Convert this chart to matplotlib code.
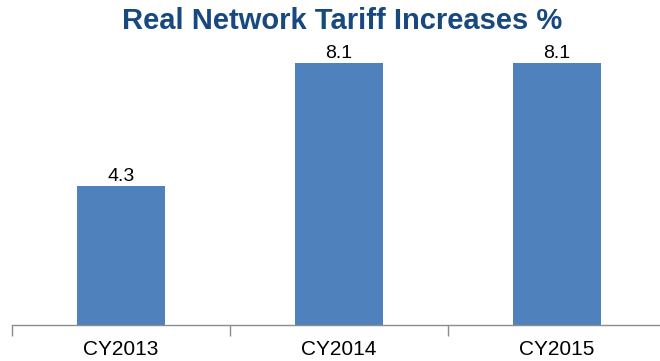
import matplotlib.pyplot as plt

# Tariff data
years = ['CY2013', 'CY2014', 'CY2015']
increases = [4.3, 8.1, 8.1]

plt.rcParams['font.family'] = ['Liberation Sans', 'DejaVu Sans']

fig = plt.figure(figsize=(6.6, 3.61), dpi=100)
ax = fig.add_axes([12 / 660, 36 / 361, 654 / 660, 291 / 361])

x = range(len(years))
bars = ax.bar(x, increases, width=0.4, color='#4F81BD')

for b, v in zip(bars, increases):
    ax.text(b.get_x() + b.get_width() / 2, v + 0.04, f'{v:.1f}',
            ha='center', va='bottom', fontsize=14, color='black')

ax.set_xlim(-0.5, 2.5)
ax.set_ylim(0, 9)

# separator ticks between categories, labels centred under bars
ax.set_xticks([-0.5, 0.5, 1.5, 2.5])
ax.set_xticklabels([])
ax.tick_params(axis='x', which='major', length=8, color='#8C8C8C', width=1)
ax.set_xticks(list(x), minor=True)
ax.set_xticklabels(years, minor=True, fontsize=15)
ax.tick_params(axis='x', which='minor', length=0, pad=11)

ax.set_yticks([])
for s in ['top', 'right', 'left']:
    ax.spines[s].set_visible(False)
ax.spines['bottom'].set_color('#8C8C8C')
ax.spines['bottom'].set_linewidth(1)

fig.text(0.518, 0.943, 'Real Network Tariff Increases %', ha='center', va='center',
         fontsize=21, fontweight='bold', color='#17487F')

fig.savefig('out.png', dpi=100)
